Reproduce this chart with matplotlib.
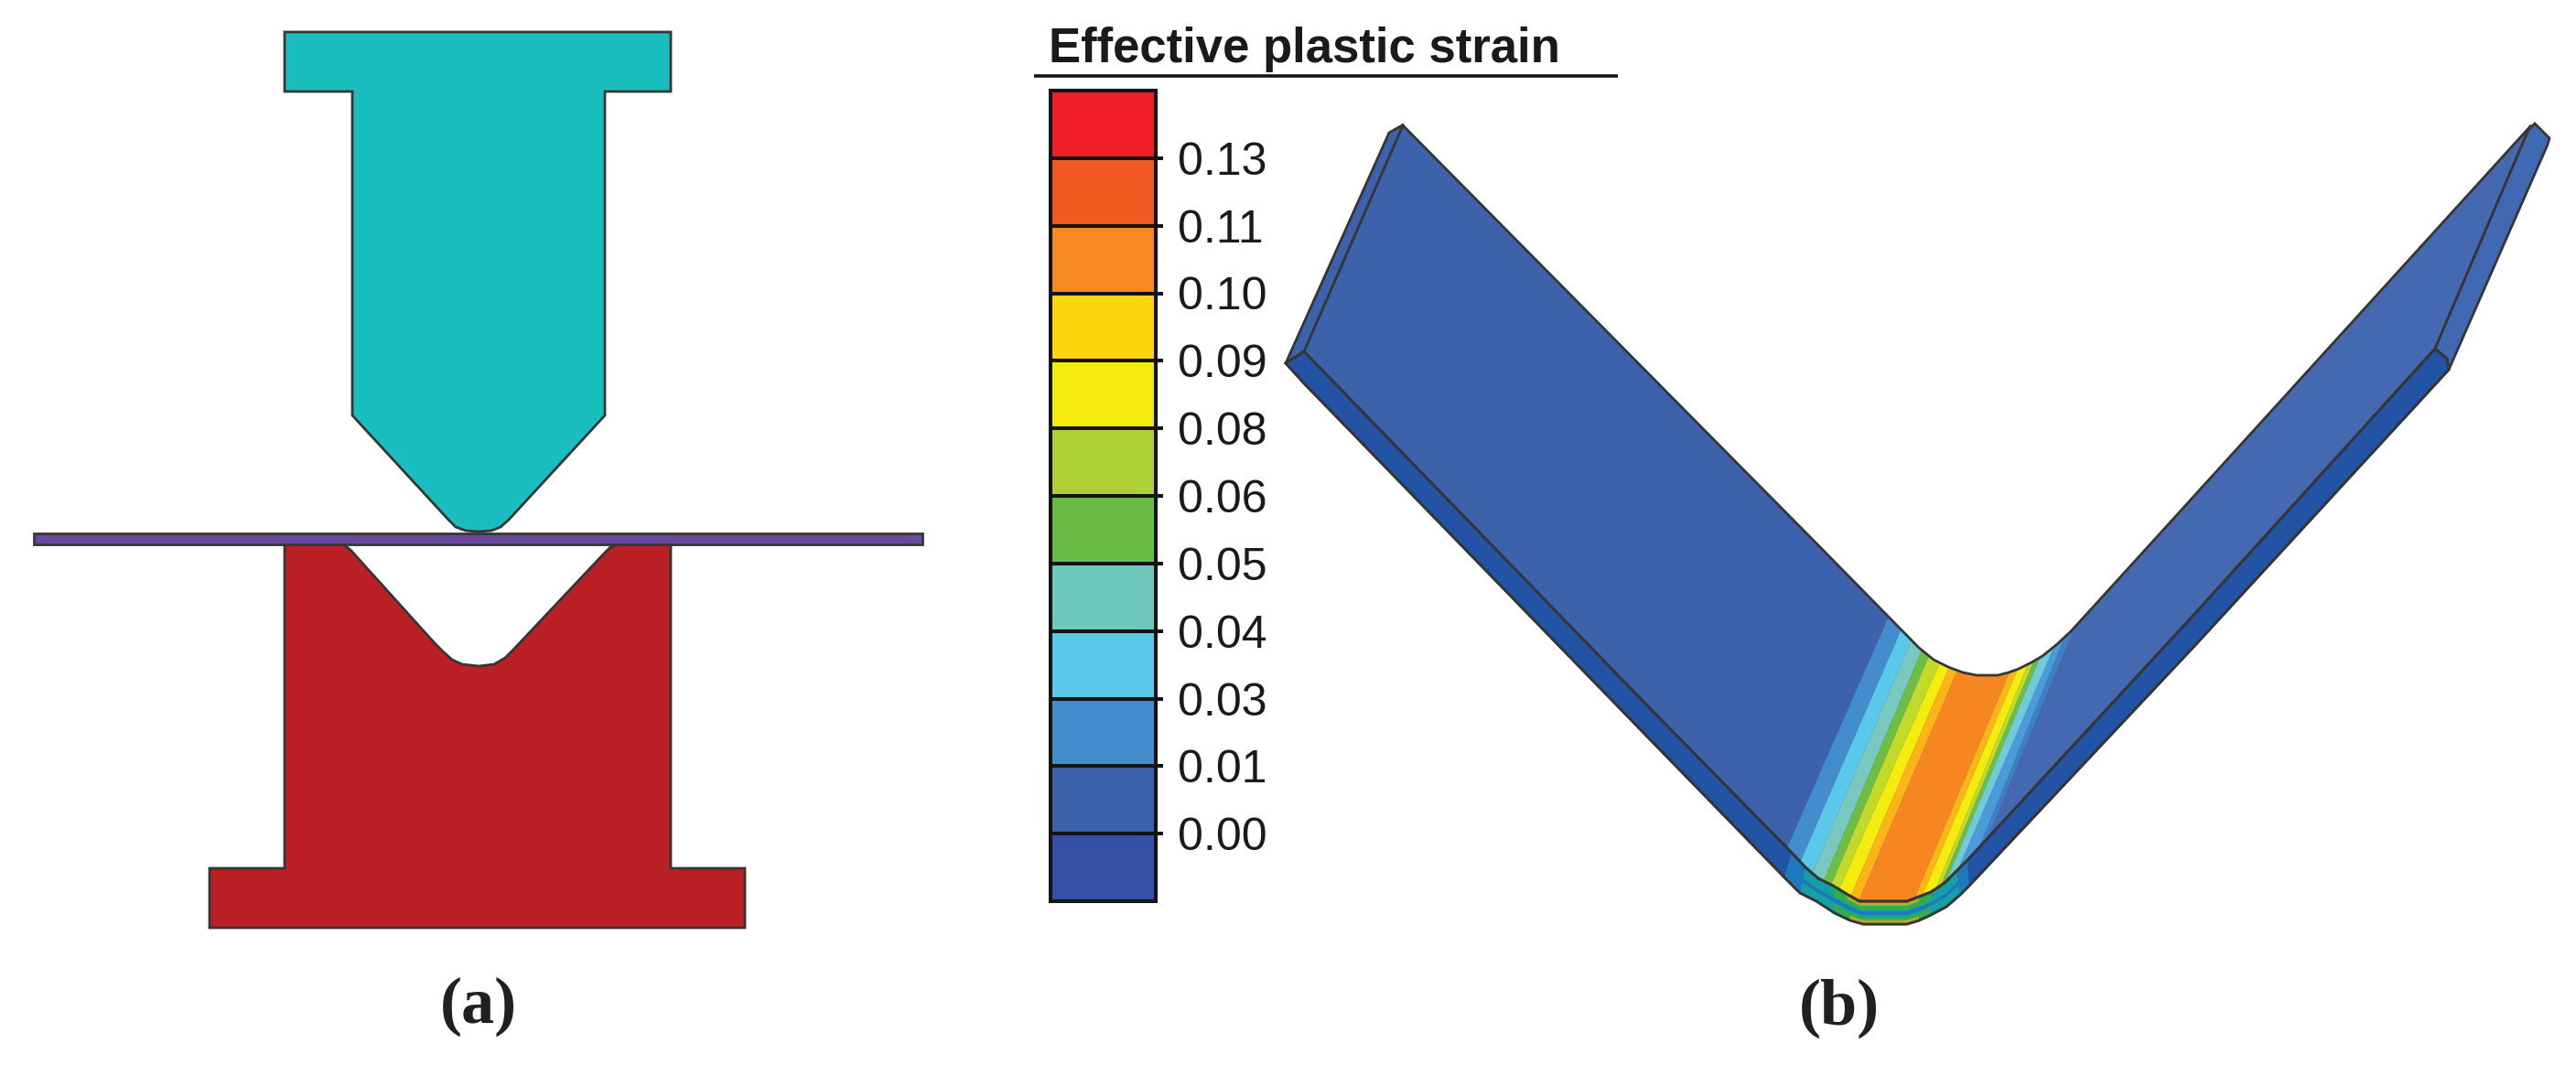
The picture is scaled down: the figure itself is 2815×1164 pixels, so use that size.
import numpy as np
import matplotlib
matplotlib.use("Agg")
import matplotlib.pyplot as plt
from matplotlib.patches import Polygon

# outlines of panel (a), image pixels
punch_outline = [(311,35),(733,35),(733,100),(661,100),(661,454),(556,568),(547,576),(537,580),(523,581),(509,580),(498,576),(490,568),(385,454),(385,100),(311,100)]
sheet_outline = [(37,583),(1008,583),(1008,595),(37,595)]
die_outline = [(311,595),(375,595),(383,601),(475,703),(484,712),(494,721),(505,726),(523,728),(540,726),(552,719),(561,710),(660,605),(667,598),(676,595),(733,595),
               (733,949),(814,949),(814,1014),(229,1014),(229,949),(311,949)]

# legend
levels = ["0.00","0.01","0.03","0.04","0.05","0.06","0.08","0.09","0.10","0.11","0.13"]
band_colors = ["#3451A3","#3C62AB","#438DCD","#5AC8E8","#6EC7BB","#6BBC45",
               "#AFD135","#F4EC0C","#FBD60D","#F6891F","#F25A22","#F01E27"]

# through-thickness stations of the bend
bend_inner = [(1958,932),(1973,948),(1987,960),(2003,968),(2018,977),(2032,985),(2084,985),(2097,980),(2110,975),(2125,965),(2138,952),(2150,940)]
bend_outer = [(1950,959),(1967,976),(1985,985),(2005,998),(2022,1006),(2036,1010),(2084,1010),(2097,1006),(2110,1000),(2127,991),(2142,978),(2152,968)]
bend_layers = [("#1D78BC",0,11,0.0,1.0),
               ("#12A0A5",1,10,0.0,0.45),("#12A0A5",1,10,0.6,1.0),
               ("#2EAE4C",3,8,0.0,0.38),("#2EAE4C",3,8,0.68,1.0),
               ("#B8A82C",4,7,0.0,0.2),("#B8A82C",4,7,0.82,1.0)]

# panel (b) outlines
top_edge = [(1533,137),(1991,600),(2097,708),(2113,721),(2129,729),(2145,735),(2160,738),(2183,738),(2195,735),(2206,731),(2220,724),(2232,717),(2248,704),(2263,690),
            (2345,600),(2766,137)]
top_surface = [(1425,384)] + top_edge + [(2763,142),(2661,381),(2400,669)] + bend_inner[::-1] + [(1800,771)]
left_end = [(1405,397),(1518,145),(1534,136),(1533,137),(1425,384)]
right_end = [(2763,142),(2770,135),(2786,151),(2784,158),(2676,404),(2674,392),(2661,381)]
front_face = [(1405,397),(1425,384),(1800,771)] + bend_inner + [(2400,669),(2661,381),(2674,392),(2676,404),(2400,704)] + bend_outer[::-1] + [(1800,805),(1425,419)]

# strain bands on the bend, from one boundary to the next (top edge point, front edge point)
stripe_lines = [((2060,683),(1955,922)),((2076,692),(1970,936)),((2089,699),(1982,951)),((2100,711),(1995,958)),
                ((2108,717),(2003,963)),((2120,724),(2011,969)),((2130,729),(2024,976)),((2139,733),(2032,983)),
                ((2196,735),(2093,980)),((2206,729),(2102,976)),((2217,724),(2116,970)),((2223,721),(2123,963)),
                ((2230,717),(2129,958)),((2246,704),(2142,945)),((2257,694),(2167,916)),((2265,690),(2173,913))]
stripe_colors = ["#438DCD","#5AC8E8","#78C8C0","#6FBE44","#C3DA2A","#F4EC0C","#FDB515","#F6861F",
                 "#FDB515","#F4EC0C","#C3DA2A","#6FBE44","#6FCBD8","#4A9BD8","#3F7FC4"]

EDGE = "#363636"

fig = plt.figure(figsize=(28.15, 11.64), dpi=100)
ax = fig.add_axes([0, 0, 1, 1])
ax.set_xlim(0, 2815)
ax.set_ylim(1164, 0)
ax.axis("off")

# panel a
ax.add_patch(Polygon(punch_outline, fc="#1ABEBF", ec=EDGE, lw=2))
ax.add_patch(Polygon(die_outline, fc="#BA2025", ec=EDGE, lw=2))
ax.add_patch(Polygon(sheet_outline, fc="#6A4A9C", ec=EDGE, lw=2))
ax.text(523, 1100, "(a)", family="Liberation Serif", weight="bold", fontsize=52, ha="center", va="center", color="#231F20")

# panel b
ax.add_patch(Polygon(front_face, fc="#2353A4", ec=EDGE, lw=2, zorder=2))
inner = np.array(bend_inner, float)
outer = np.array(bend_outer, float)
for col, i0, i1, f0, f1 in bend_layers:
    a = inner[i0:i1+1] + (outer[i0:i1+1] - inner[i0:i1+1]) * f0
    b = inner[i0:i1+1] + (outer[i0:i1+1] - inner[i0:i1+1]) * f1
    ax.add_patch(Polygon(np.vstack([a, b[::-1]]), fc=col, ec="none", zorder=2.5))

surf = Polygon(top_surface, fc="#3C62AB", ec="none", zorder=3)
ax.add_patch(surf)
# right part of the sheet is a bit lighter
right = ax.fill([2173,2800,2800,2173], [913,913,100,690], color="#4469B1", lw=0, zorder=3.1)[0]
right.set_clip_path(surf)
for k, col in enumerate(stripe_colors):
    p0, q0 = np.array(stripe_lines[k], float)
    p1, q1 = np.array(stripe_lines[k+1], float)
    d0 = (q0 - p0) * 0.08
    d1 = (q1 - p1) * 0.08
    st = ax.fill([p0[0]-d0[0], p1[0]-d1[0], q1[0]+d1[0], q0[0]+d0[0]],
                 [p0[1]-d0[1], p1[1]-d1[1], q1[1]+d1[1], q0[1]+d0[1]], color=col, lw=0, zorder=3.2)[0]
    st.set_clip_path(surf)
ax.add_patch(Polygon(top_surface, fc="none", ec=EDGE, lw=2, zorder=4))
ax.add_patch(Polygon(left_end, fc="#3C62AB", ec=EDGE, lw=2, zorder=4))
ax.add_patch(Polygon(right_end, fc="#4168B3", ec=EDGE, lw=2, zorder=4))
ax.add_patch(Polygon(front_face, fc="none", ec=EDGE, lw=2, zorder=4))
ax.text(2010, 1102, "(b)", family="Liberation Serif", weight="bold", fontsize=52, ha="center", va="center", color="#231F20")

# legend title
ax.text(1146, 68, "Effective plastic strain", family="Liberation Sans", weight="bold", fontsize=38,
        ha="left", va="baseline", color="#1a1a1a")
ax.plot([1130, 1768], [83, 83], color="#141414", lw=2.6, solid_capstyle="butt")

# legend bar
cax = fig.add_axes([1148/2815, 1-985/1164, 115/2815, 886/1164])
cax.bar(np.zeros(len(band_colors)), np.ones(len(band_colors)), bottom=np.arange(len(band_colors)),
        width=1, color=band_colors, align="edge")
cax.hlines(np.arange(1, len(band_colors)), 0, 1, color="#141414", lw=2.9)
cax.set_xlim(0, 1)
cax.set_ylim(0, len(band_colors))
cax.set_xticks([])
cax.yaxis.tick_right()
cax.set_yticks(np.arange(1, len(band_colors)))
cax.set_yticklabels(levels, family="Liberation Sans", fontsize=36, color="#1a1a1a")
cax.tick_params(axis="y", length=6, width=2.9, color="#141414", pad=11)
for s in cax.spines.values():
    s.set_linewidth(2.9)
    s.set_color("#141414")

fig.savefig("out.png", dpi=100)
